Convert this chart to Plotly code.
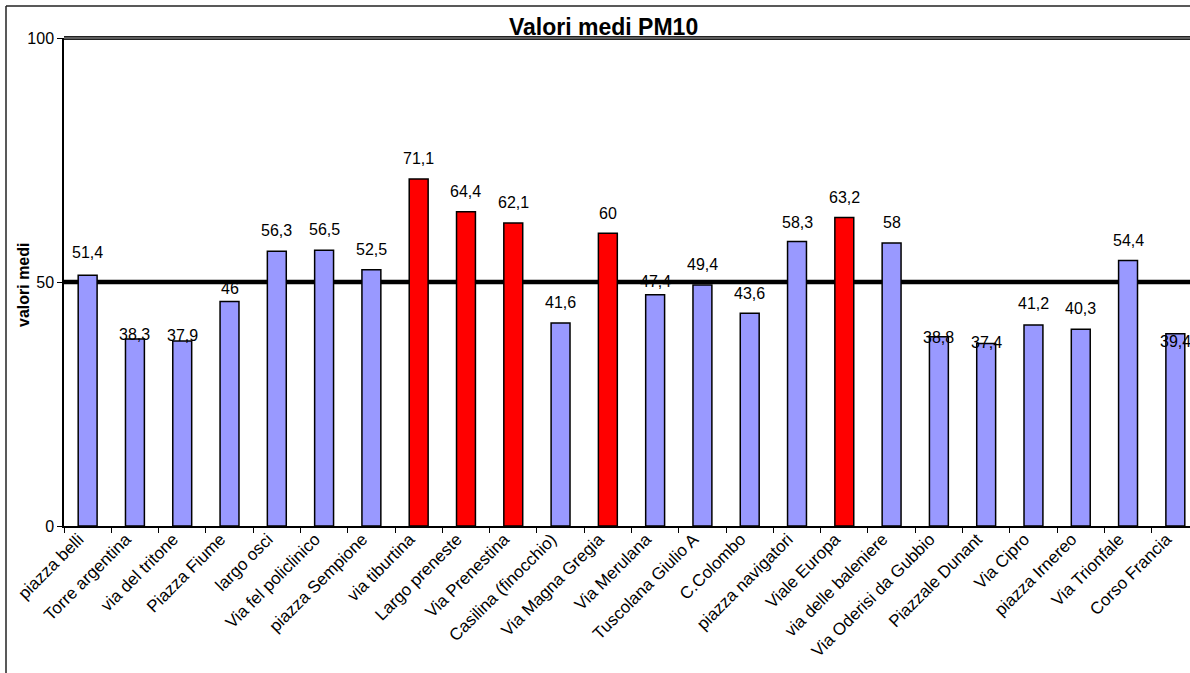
import plotly.graph_objects as go

# Stazioni di misura e valori medi di PM10
stazioni = [
    "piazza belli", "Torre argentina", "via del tritone", "Piazza Fiume",
    "largo osci", "Via fel policlinico", "piazza Sempione", "via tiburtina",
    "Largo preneste", "Via Prenestina", "Casilina (finocchio)", "Via Magna Gregia",
    "Via Merulana", "Tuscolana Giulio A", "C.Colombo", "piazza navigatori",
    "Viale Europa", "via delle baleniere", "Via Oderisi da Gubbio", "Piazzale Dunant",
    "Via Cipro", "piazza Irnereo", "Via Trionfale", "Corso Francia",
]
valori = [
    51.4, 38.3, 37.9, 46, 56.3, 56.5, 52.5, 71.1,
    64.4, 62.1, 41.6, 60, 47.4, 49.4, 43.6, 58.3,
    63.2, 58, 38.8, 37.4, 41.2, 40.3, 54.4, 39.4,
]
limite = 50          # valore limite giornaliero
soglia_rossa = 60    # barre evidenziate in rosso da questa soglia
y_ticks = [0, 50, 100]

# distanza (px) delle etichette sopra la cima della barra
spost_etichette = [23, 5, 6, 13, 21, 21, 20, 21, 20, 20, 20, 20,
                   13, 20, 20, 19, 20, 20, -1, 1, 21, 21, 20, -8]

W, H = 1190, 673
ML, MR, MT, MB = 64, 0, 38, 147
PW = W - ML - MR
PH = H - MT - MB
FONT = "Arial, 'Liberation Sans', sans-serif"


def px_x(x):
    return (x - ML) / PW


def px_y(y):
    return (H - MB - y) / PH


colori = ["#FF0000" if v >= soglia_rossa else "#9999FF" for v in valori]

fig = go.Figure(
    go.Bar(
        x=stazioni,
        y=valori,
        width=0.4,
        marker=dict(color=colori, line=dict(color="black", width=1.5)),
        hovertemplate="%{x}: %{y}<extra></extra>",
    )
)

for stazione, v, dy in zip(stazioni, valori, spost_etichette):
    fig.add_annotation(
        x=stazione, y=v, text=f"{v:g}".replace(".", ","),
        showarrow=False, yanchor="middle", yshift=dy,
        font=dict(size=16, color="black", family=FONT),
    )

# linea del limite
fig.add_shape(type="line", xref="paper", x0=0, x1=1, yref="y", y0=limite, y1=limite,
              line=dict(color="black", width=4.5), layer="below")

# bordo superiore doppio dell'area del grafico
fig.add_shape(type="line", xref="paper", x0=0, x1=1, yref="paper", y0=1, y1=1,
              line=dict(color="#222222", width=4))
fig.add_shape(type="line", xref="paper", x0=0, x1=1, yref="paper", y0=1, y1=1,
              line=dict(color="#9a9a9a", width=1))

# cornice esterna
fig.add_shape(type="line", xref="paper", yref="paper",
              x0=px_x(6), x1=px_x(6), y0=px_y(6), y1=px_y(H + 5),
              line=dict(color="#222222", width=1.5))
fig.add_shape(type="line", xref="paper", yref="paper",
              x0=px_x(6), x1=px_x(W + 5), y0=px_y(6), y1=px_y(6),
              line=dict(color="#222222", width=1.5))

fig.add_annotation(
    text="<b>Valori medi PM10</b>", xref="paper", yref="paper",
    x=px_x(603.5), y=px_y(27), xanchor="center", yanchor="middle",
    showarrow=False, font=dict(size=23, color="black", family=FONT),
)
fig.add_annotation(
    text="<b>valori medi</b>", xref="paper", yref="paper", textangle=-90,
    x=px_x(23), y=px_y(285), xanchor="center", yanchor="middle",
    showarrow=False, font=dict(size=16, color="black", family=FONT),
)

fig.update_layout(
    width=W, height=H,
    margin=dict(l=ML, r=MR, t=MT, b=MB),
    plot_bgcolor="white", paper_bgcolor="white",
    showlegend=False,
    font=dict(family=FONT, color="black"),
    xaxis=dict(
        type="category", range=[-0.5, 23.31],
        tickangle=-45, tickson="boundaries",
        ticks="outside", ticklen=5, tickcolor="black", tickwidth=1,
        ticklabelshift=-9, ticklabelstandoff=-5,
        showline=True, linecolor="black", linewidth=1.5,
        showgrid=False, tickfont=dict(size=17, color="black"),
    ),
    yaxis=dict(
        range=[0, 100], tickvals=y_ticks,
        ticks="outside", ticklen=5, tickcolor="black", tickwidth=1,
        showline=True, linecolor="black", linewidth=1.5,
        showgrid=False, zeroline=False, ticklabelstandoff=0,
        tickfont=dict(size=16, color="black"),
    ),
)

fig.write_html("out.html")
